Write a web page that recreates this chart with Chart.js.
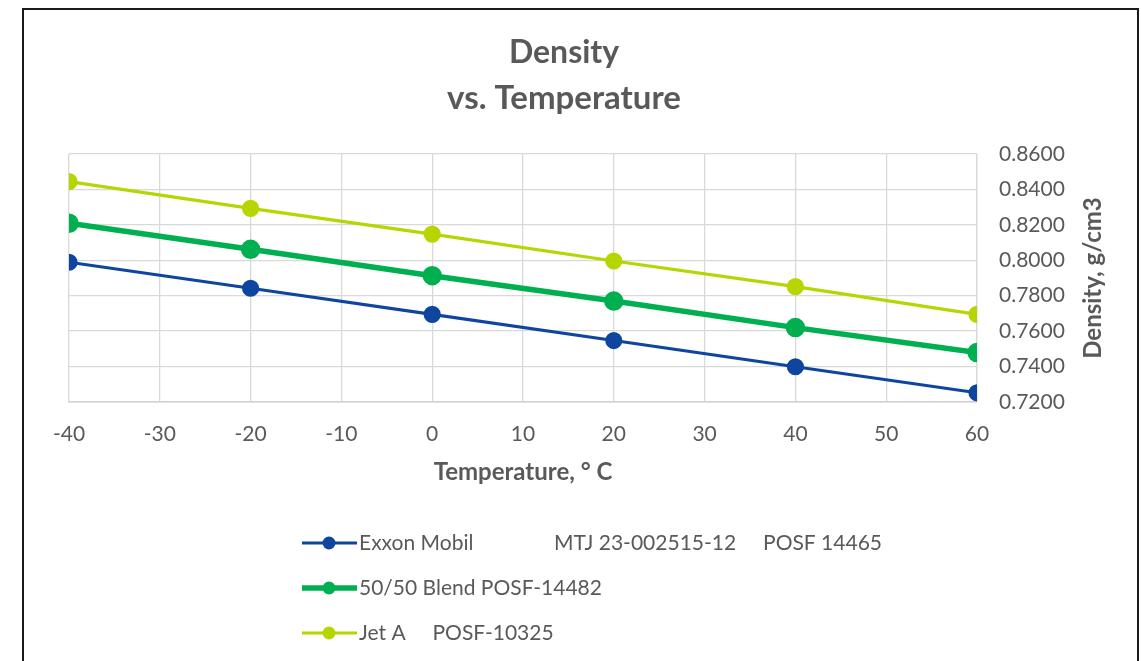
<!DOCTYPE html>
<html>
<head>
<meta charset="utf-8">
<script src="https://cdn.jsdelivr.net/npm/chart.js@4"></script>
<style>
html, body { margin: 0; padding: 0; background: #fff; overflow: hidden; }
#wrap { position: relative; width: 1141px; height: 661px; }
#marco { position: absolute; left: 22px; top: 8px; width: 1117px; height: 700px; border: 2px solid #1a1a1a; box-sizing: border-box; }
canvas { position: absolute; left: 0; top: 0; }
</style>
</head>
<body>
<div id="wrap">
  <div id="marco"></div>
  <canvas id="grafico" width="1141" height="661"></canvas>
</div>
<script>
// datos
const temperaturas = [-40, -20, 0, 20, 40, 60];
const exxonMobil = [0.7989, 0.7842, 0.7695, 0.7547, 0.7399, 0.7252];
const mezcla5050 = [0.8209, 0.8062, 0.7913, 0.7770, 0.7620, 0.7479];
const jetA = [0.8444, 0.8293, 0.8148, 0.7996, 0.7851, 0.7695];
const etiquetas = [
    "Exxon Mobil               MTJ 23-002515-12     POSF 14465",
    "50/50 Blend POSF-14482",
    "Jet A     POSF-10325"
];
const titulo = ["Density", "vs. Temperature"];
const tituloX = "Temperature, \u00B0 C";
const tituloY = "Density, g/cm3";

const gris = "#595959";
const fuente = "Lato, 'Noto Sans', sans-serif";

function puntos(valores) {
    return temperaturas.map((t, i) => ({ x: t, y: valores[i] }));
}

// titulo, leyenda vertical abajo y titulo del eje Y (leido de abajo hacia arriba)
const extras = {
    id: "extras",
    afterDraw(chart) {
        const ctx = chart.ctx;
        const area = chart.chartArea;

        ctx.save();
        ctx.fillStyle = gris;
        ctx.textAlign = "center";
        ctx.textBaseline = "middle";
        ctx.font = "bold 32px " + fuente;
        ctx.fillText(titulo[0], 564, 53);
        ctx.font = "bold 33px " + fuente;
        ctx.fillText(titulo[1], 564, 98);
        ctx.restore();

        ctx.save();
        ctx.font = "bold 24px " + fuente;
        ctx.fillStyle = gris;
        ctx.textAlign = "center";
        ctx.textBaseline = "middle";
        ctx.translate(1093, (area.top + area.bottom) / 2);
        ctx.rotate(-Math.PI / 2);
        ctx.fillText(tituloY, 0, 0);
        ctx.restore();

        const filas = [543, 588, 633];
        ctx.save();
        chart.data.datasets.forEach((ds, i) => {
            const y = filas[i];
            ctx.strokeStyle = ds.borderColor;
            ctx.lineWidth = ds.borderWidth;
            ctx.beginPath();
            ctx.moveTo(302, y);
            ctx.lineTo(357, y);
            ctx.stroke();
            ctx.fillStyle = ds.borderColor;
            ctx.beginPath();
            ctx.arc(329, y, 6.5, 0, Math.PI * 2);
            ctx.fill();
            ctx.fillStyle = gris;
            ctx.font = "21px " + fuente;
            ctx.textAlign = "left";
            ctx.textBaseline = "middle";
            ctx.fillText(ds.label, 359, y);
        });
        ctx.restore();
    }
};

const ctx = document.getElementById("grafico").getContext("2d");
const grafico = new Chart(ctx, {
    type: "line",
    data: {
        datasets: [
            {
                label: etiquetas[0],
                data: puntos(exxonMobil),
                borderColor: "#0e469f",
                backgroundColor: "#0e469f",
                borderWidth: 3.2,
                pointRadius: 7
            },
            {
                label: etiquetas[1],
                data: puntos(mezcla5050),
                borderColor: "#00b050",
                backgroundColor: "#00b050",
                borderWidth: 5.5,
                pointRadius: 7
            },
            {
                label: etiquetas[2],
                data: puntos(jetA),
                borderColor: "#b7d500",
                backgroundColor: "#b7d500",
                borderWidth: 3.2,
                pointRadius: 7
            }
        ]
    },
    options: {
        responsive: false,
        animation: false,
        devicePixelRatio: 1,
        layout: { padding: { top: 154, left: 69, right: 30, bottom: 169 } },
        plugins: {
            legend: { display: false },
            tooltip: { enabled: false },
            title: { display: false }
        },
        scales: {
            x: {
                type: "linear",
                min: -40,
                max: 60,
                ticks: { stepSize: 10, color: gris, font: { family: fuente, size: 21 }, padding: 20 },
                grid: { color: "#d9d9d9", lineWidth: 1.3, drawTicks: false },
                border: { color: "#d0d0d0", width: 1.5 },
                title: {
                    display: true,
                    text: tituloX,
                    color: gris,
                    font: { family: fuente, size: 24, weight: "bold", lineHeight: 1.2 },
                    padding: { top: 0, bottom: 5 }
                },
                afterFit(escala) { escala.height = 90; }
            },
            y: {
                position: "right",
                min: 0.72,
                max: 0.86,
                ticks: {
                    stepSize: 0.02,
                    color: gris,
                    font: { family: fuente, size: 21 },
                    padding: 22,
                    callback: v => v.toFixed(4)
                },
                grid: { color: "#d9d9d9", lineWidth: 1.3, drawTicks: false },
                border: { color: "#d9d9d9", width: 1.3 },
                afterFit(escala) { escala.width = 134; }
            }
        }
    },
    plugins: [extras]
});
</script>
</body>
</html>
